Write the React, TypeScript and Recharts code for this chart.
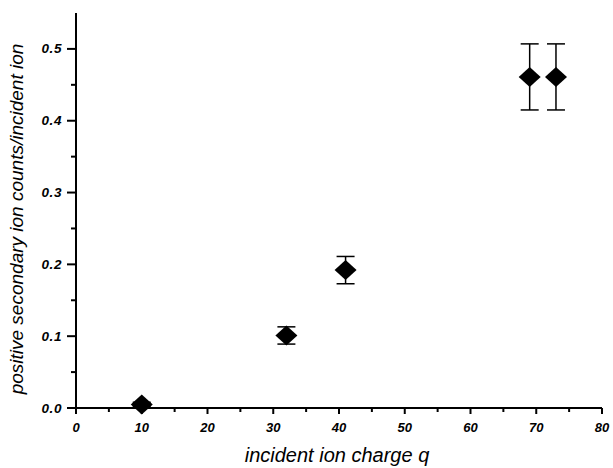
import { ScatterChart, Scatter, XAxis, YAxis, ErrorBar } from 'recharts';

// incident ion charge q
const charges = [10, 32, 41, 69, 73];
// positive secondary ion counts per incident ion
const yields = [0.005, 0.101, 0.192, 0.461, 0.461];
const yieldErrors = [0.003, 0.012, 0.019, 0.046, 0.046];

const xTicks = [0, 5, 10, 15, 20, 25, 30, 35, 40, 45, 50, 55, 60, 65, 70, 75, 80];
const yTicks = [0, 0.05, 0.1, 0.15, 0.2, 0.25, 0.3, 0.35, 0.4, 0.45, 0.5];

const data = charges.map((q, i) => ({ q, y: yields[i], err: yieldErrors[i] }));

const FONT = '"Liberation Sans", Arial, sans-serif';

const isMajorX = (v: number) => v % 10 === 0;
const isMajorY = (v: number) => Math.abs(Math.round(v * 10) - v * 10) < 1e-6;

function BottomTick({ x, y, payload }: any) {
  const major = isMajorX(payload.value);
  return (
    <g>
      <line x1={x} y1={y} x2={x} y2={y + (major ? 6 : 4)} stroke="#000" strokeWidth={2} />
      {major && (
        <text x={x} y={y + 24} textAnchor="middle" fontFamily={FONT} fontSize={13}
          fontStyle="italic" fontWeight="bold" fill="#000">
          {payload.value}
        </text>
      )}
    </g>
  );
}

function TopTick({ x, y, payload }: any) {
  const major = isMajorX(payload.value);
  return <line x1={x} y1={y} x2={x} y2={y + (major ? 7 : 4)} stroke="#000" strokeWidth={2} />;
}

function LeftTick({ x, y, payload }: any) {
  const major = isMajorY(payload.value);
  return (
    <g>
      <line x1={x} y1={y} x2={x - (major ? 9 : 5)} y2={y} stroke="#000" strokeWidth={2} />
      {major && (
        <text x={x - 14} y={y + 4.5} textAnchor="end" fontFamily={FONT} fontSize={13.5}
          fontStyle="italic" fontWeight="bold" fill="#000" letterSpacing={0.6}>
          {payload.value.toFixed(1)}
        </text>
      )}
    </g>
  );
}

function RightTick({ x, y, payload }: any) {
  const major = isMajorY(payload.value);
  return <line x1={x} y1={y} x2={x - (major ? 9 : 4)} y2={y} stroke="#000" strokeWidth={2} />;
}

function Diamond({ cx, cy }: any) {
  return (
    <path d={`M${cx},${cy - 10} L${cx + 11},${cy} L${cx},${cy + 10} L${cx - 11},${cy} Z`} fill="#000" />
  );
}

export default function App() {
  return (
    <div style={{ position: 'absolute', left: 0, top: 0, background: '#fff' }}>
      <ScatterChart width={613} height={468} margin={{ top: 13, right: 11, bottom: 0, left: 0 }}>
        <XAxis
          xAxisId="bottom"
          type="number"
          dataKey="q"
          domain={[0, 80]}
          ticks={xTicks}
          interval={0}
          height={60}
          tickSize={0}
          tickMargin={0}
          tickLine={false}
          axisLine={{ stroke: '#000', strokeWidth: 2 }}
          tick={<BottomTick />}
          label={{
            content: ({ viewBox }: any) => (
              <text x={viewBox.x + viewBox.width / 2 - 2} y={viewBox.y + 54} textAnchor="middle"
                fontFamily={FONT} fontSize={20} fontStyle="italic" fill="#000">
                incident ion charge q
              </text>
            ),
          }}
        />
        <XAxis
          xAxisId="top"
          orientation="top"
          type="number"
          dataKey="q"
          domain={[0, 80]}
          ticks={xTicks}
          interval={0}
          height={0}
          tickSize={0}
          tickMargin={0}
          tickLine={false}
          axisLine={{ stroke: '#000', strokeWidth: 2 }}
          tick={<TopTick />}
        />
        <YAxis
          yAxisId="left"
          type="number"
          dataKey="y"
          domain={[0, 0.55]}
          ticks={yTicks}
          interval={0}
          width={76}
          tickSize={0}
          tickMargin={0}
          tickLine={false}
          axisLine={{ stroke: '#000', strokeWidth: 2 }}
          tick={<LeftTick />}
          label={{
            content: ({ viewBox }: any) => {
              const lx = viewBox.x + 23;
              const ly = viewBox.y + viewBox.height / 2 + 8.5;
              return (
                <text x={lx} y={ly} textAnchor="middle" transform={`rotate(-90 ${lx} ${ly})`}
                  fontFamily={FONT} fontSize={19} fontStyle="italic" fill="#000">
                  positive secondary ion counts/incident ion
                </text>
              );
            },
          }}
        />
        <YAxis
          yAxisId="right"
          orientation="right"
          type="number"
          dataKey="y"
          domain={[0, 0.55]}
          ticks={yTicks}
          interval={0}
          width={0}
          tickSize={0}
          tickMargin={0}
          tickLine={false}
          axisLine={{ stroke: '#000', strokeWidth: 2 }}
          tick={<RightTick />}
        />
        <Scatter
          data={data}
          xAxisId="bottom"
          yAxisId="left"
          shape={<Diamond />}
          isAnimationActive={false}
        >
          <ErrorBar dataKey="err" direction="y" width={9} stroke="#000" strokeWidth={1.5} />
        </Scatter>
      </ScatterChart>
    </div>
  );
}
